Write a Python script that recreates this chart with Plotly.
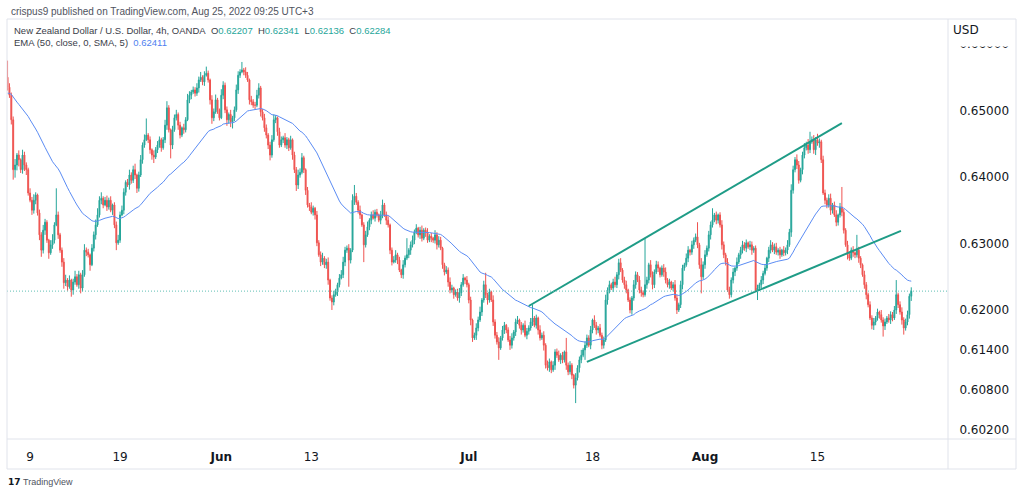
import numpy as np
import pandas as pd
import plotly.graph_objects as go

# ---------------- data (prices in units of 0.0001) ----------------
first_open_pips = 6550
close_pips = [
    6535, 6523, 6486, 6411, 6418, 6433, 6426, 6411, 6433, 6418,
    6411, 6376, 6365, 6350, 6365, 6373, 6346, 6313, 6290, 6320,
    6332, 6305, 6286, 6298, 6305, 6328, 6343, 6313, 6290, 6272,
    6241, 6245, 6235, 6245, 6230, 6242, 6250, 6238, 6253, 6233,
    6253, 6290, 6287, 6283, 6268, 6293, 6313, 6328, 6343, 6365,
    6368, 6358, 6365, 6355, 6365, 6350, 6358, 6328, 6301, 6305,
    6343, 6350, 6377, 6392, 6388, 6403, 6395, 6411, 6403, 6383,
    6403, 6426, 6448, 6456, 6463, 6456, 6441, 6433, 6430, 6441,
    6448, 6456, 6444, 6456, 6478, 6504, 6471, 6448, 6471, 6489,
    6494, 6478, 6463, 6474, 6471, 6486, 6516, 6523, 6528, 6531,
    6526, 6534, 6546, 6550, 6543, 6553, 6556, 6546, 6516, 6489,
    6498, 6516, 6501, 6489, 6523, 6538, 6501, 6486, 6494, 6483,
    6489, 6501, 6531, 6553, 6558, 6561, 6558, 6553, 6546, 6516,
    6513, 6508, 6508, 6523, 6534, 6498, 6489, 6474, 6463, 6448,
    6433, 6456, 6486, 6489, 6468, 6448, 6456, 6459, 6448, 6456,
    6444, 6456, 6433, 6411, 6388, 6403, 6407, 6429, 6411, 6380,
    6358, 6355, 6347, 6353, 6343, 6301, 6283, 6272, 6278, 6268,
    6272, 6245, 6218, 6212, 6223, 6227, 6238, 6248, 6253, 6272,
    6290, 6293, 6275, 6290, 6365, 6371, 6362, 6350, 6343, 6328,
    6298, 6313, 6325, 6335, 6343, 6338, 6347, 6343, 6335, 6343,
    6358, 6343, 6335, 6328, 6290, 6272, 6275, 6283, 6275, 6260,
    6253, 6268, 6278, 6283, 6290, 6298, 6305, 6317, 6323, 6313,
    6320, 6308, 6320, 6317, 6305, 6311, 6308, 6305, 6313, 6298,
    6305, 6293, 6268, 6257, 6260, 6242, 6230, 6233, 6223, 6227,
    6218, 6226, 6238, 6248, 6245, 6238, 6215, 6185, 6158, 6162,
    6173, 6185, 6197, 6215, 6238, 6223, 6215, 6227, 6215, 6182,
    6162, 6152, 6143, 6158, 6170, 6177, 6170, 6155, 6147, 6158,
    6167, 6182, 6185, 6177, 6170, 6177, 6162, 6168, 6173, 6182,
    6188, 6177, 6188, 6170, 6158, 6162, 6147, 6117, 6113, 6122,
    6110, 6117, 6137, 6132, 6125, 6132, 6125, 6137, 6117, 6107,
    6117, 6102, 6087, 6098, 6113, 6125, 6132, 6140, 6147, 6158,
    6147, 6170, 6185, 6177, 6170, 6173, 6162, 6147, 6155, 6215,
    6230, 6238, 6233, 6242, 6238, 6253, 6271, 6260, 6245, 6238,
    6230, 6215, 6200, 6218, 6238, 6253, 6245, 6230, 6226, 6223,
    6238, 6245, 6268, 6253, 6238, 6257, 6268, 6263, 6253, 6263,
    6257, 6245, 6238, 6242, 6233, 6238, 6218, 6200, 6208, 6238,
    6263, 6268, 6278, 6290, 6287, 6298, 6305, 6310, 6298, 6268,
    6250, 6268, 6283, 6293, 6313, 6328, 6335, 6343, 6335, 6343,
    6328, 6298, 6283, 6272, 6230, 6223, 6245, 6257, 6263, 6272,
    6283, 6290, 6298, 6293, 6301, 6295, 6298, 6290, 6293, 6230,
    6233, 6238, 6245, 6255, 6263, 6278, 6290, 6298, 6290, 6295,
    6287, 6290, 6283, 6290, 6286, 6290, 6298, 6317, 6380, 6411,
    6426, 6418, 6395, 6411, 6433, 6444, 6448, 6441, 6453, 6456,
    6441, 6456, 6451, 6453, 6426, 6376, 6365, 6358, 6368, 6350,
    6358, 6343, 6332, 6343, 6355, 6347, 6320, 6298, 6283, 6278,
    6290, 6286, 6283, 6290, 6278, 6268, 6253, 6238, 6223, 6208,
    6188, 6177, 6182, 6188, 6197, 6193, 6185, 6176, 6182, 6188,
    6185, 6193, 6188, 6200, 6223, 6208, 6197, 6185, 6173, 6182,
    6193, 6220.7, 6228.4,
]
wick_up_pips = [
    25, 6, 4, 5, 9, 3, 7, 2, 8, 5, 4, 3, 7, 5, 9, 4, 2, 5, 4, 8,
    5, 3, 2, 7, 9, 4, 40, 5, 3, 4, 6, 8, 3, 7, 2, 5, 9, 4, 6, 3,
    7, 9, 4, 5, 2, 6, 5, 8, 10, 6, 9, 3, 5, 7, 4, 6, 2, 4, 5, 8,
    5, 7, 6, 3, 5, 8, 4, 6, 9, 2, 5, 7, 4, 8, 25, 3, 5, 2, 7, 4,
    6, 5, 3, 4, 8, 10, 4, 2, 6, 5, 7, 3, 5, 2, 6, 4, 9, 6, 3, 5,
    4, 7, 5, 8, 3, 6, 10, 4, 2, 7, 5, 8, 3, 2, 9, 6, 4, 5, 3, 7,
    3, 5, 8, 6, 4, 12, 3, 7, 5, 2, 6, 4, 5, 8, 7, 3, 4, 6, 5, 3,
    5, 7, 8, 4, 2, 6, 5, 3, 7, 4, 3, 6, 2, 5, 4, 8, 6, 7, 3, 2,
    5, 3, 7, 4, 2, 6, 4, 5, 8, 3, 5, 7, 2, 4, 6, 5, 3, 6, 7, 8,
    5, 4, 6, 3, 9, 17, 5, 3, 7, 2, 4, 6, 8, 3, 5, 7, 4, 5, 2, 6,
    8, 3, 5, 6, 2, 4, 6, 7, 3, 5, 2, 7, 4, 25, 3, 5, 7, 4, 6, 2,
    5, 7, 3, 4, 6, 3, 5, 2, 7, 4, 6, 5, 2, 3, 6, 4, 7, 5, 2, 4,
    5, 7, 4, 6, 2, 6, 3, 5, 2, 4, 7, 5, 8, 3, 6, 18, 3, 5, 2, 7,
    4, 5, 7, 3, 6, 5, 2, 4, 6, 7, 3, 5, 6, 2, 5, 3, 7, 5, 4, 6,
    20, 3, 5, 2, 7, 4, 6, 3, 7, 5, 2, 6, 4, 5, 7, 3, 5, 2, 21, 4,
    6, 3, 2, 7, 4, 5, 8, 3, 6, 5, 4, 6, 2, 7, 5, 3, 6, 4, 5, 8,
    4, 6, 3, 5, 8, 4, 6, 7, 3, 5, 6, 2, 4, 3, 7, 5, 4, 6, 5, 3,
    70, 5, 3, 7, 5, 4, 6, 5, 2, 4, 6, 7, 3, 5, 2, 4, 7, 5, 3, 6,
    5, 3, 7, 6, 2, 6, 4, 5, 22, 3, 10, 5, 7, 4, 6, 5, 18, 3, 5, 2,
    4, 7, 5, 3, 6, 5, 4, 6, 2, 7, 3, 5, 6, 4, 5, 2, 6, 5, 3, 4,
    5, 3, 6, 4, 5, 2, 5, 7, 4, 5, 6, 3, 5, 2, 6, 4, 7, 5, 9, 6,
    4, 8, 6, 3, 5, 7, 5, 9, 15, 5, 7, 4, 9, 5, 3, 6, 5, 4, 6, 7,
    3, 5, 7, 2, 6, 30, 5, 3, 6, 5, 4, 6, 2, 23, 5, 3, 2, 6, 4, 3,
    5, 4, 6, 3, 5, 2, 7, 4, 5, 3, 6, 5, 4, 6, 22, 3, 5, 7, 4, 5,
    6, 4, 5.7,
]
wick_dn_pips = [
    5, 4, 7, 15, 12, 8, 10, 5, 6, 9, 8, 4, 3, 7, 5, 6, 4, 8, 10, 5,
    7, 4, 9, 3, 6, 5, 2, 6, 4, 7, 9, 5, 6, 3, 10, 7, 4, 3, 6, 8,
    5, 3, 6, 4, 9, 2, 5, 7, 3, 4, 6, 5, 2, 6, 4, 3, 7, 5, 11, 3,
    4, 2, 6, 5, 3, 7, 5, 4, 6, 7, 5, 3, 6, 4, 2, 5, 6, 7, 9, 3,
    5, 4, 6, 3, 5, 7, 4, 20, 6, 3, 4, 7, 5, 3, 6, 4, 2, 5, 6, 3,
    5, 4, 7, 3, 5, 6, 2, 4, 7, 9, 5, 3, 6, 4, 2, 6, 5, 9, 6, 8,
    10, 5, 3, 6, 4, 2, 5, 4, 3, 7, 5, 4, 6, 3, 5, 7, 4, 6, 5, 6,
    8, 4, 3, 5, 6, 4, 3, 5, 4, 6, 5, 3, 7, 5, 9, 6, 4, 3, 5, 7,
    4, 6, 3, 5, 7, 5, 3, 6, 4, 5, 6, 7, 4, 12, 5, 3, 6, 4, 2, 5,
    6, 4, 40, 5, 3, 7, 4, 5, 6, 3, 26, 4, 3, 5, 6, 2, 5, 4, 3, 6,
    5, 3, 7, 4, 6, 5, 2, 4, 6, 3, 5, 6, 4, 3, 5, 7, 4, 6, 3, 4,
    6, 5, 3, 7, 4, 3, 6, 4, 5, 7, 4, 3, 6, 5, 3, 7, 5, 4, 6, 3,
    4, 7, 5, 3, 6, 4, 5, 8, 6, 3, 7, 5, 3, 6, 4, 5, 7, 4, 3, 6,
    5, 4, 18, 3, 4, 6, 5, 3, 7, 5, 4, 6, 3, 5, 7, 4, 3, 6, 5, 4,
    6, 3, 5, 7, 4, 3, 8, 5, 4, 6, 5, 3, 7, 4, 3, 6, 5, 4, 7, 5,
    4, 6, 5, 27, 4, 7, 5, 3, 15, 4, 3, 6, 5, 4, 7, 5, 3, 6, 5, 3,
    7, 5, 3, 6, 4, 5, 7, 3, 4, 6, 5, 3, 5, 7, 4, 6, 3, 5, 6, 4,
    3, 6, 5, 4, 7, 5, 3, 6, 4, 3, 7, 5, 4, 6, 3, 5, 4, 6, 3, 5,
    7, 4, 3, 6, 5, 4, 6, 3, 5, 6, 25, 4, 6, 3, 5, 7, 4, 3, 6, 5,
    4, 7, 5, 5, 3, 6, 4, 5, 6, 4, 3, 6, 5, 4, 6, 3, 5, 7, 4, 3,
    15, 4, 5, 6, 3, 4, 6, 5, 3, 6, 4, 5, 6, 3, 5, 4, 6, 3, 7, 5,
    4, 6, 5, 3, 7, 5, 4, 6, 5, 3, 6, 8, 4, 7, 5, 3, 6, 5, 4, 7,
    5, 3, 6, 5, 4, 6, 5, 3, 7, 4, 3, 6, 5, 4, 7, 5, 3, 6, 7, 4,
    3, 6, 7, 5, 4, 6, 4, 16, 6, 3, 4, 6, 5, 3, 6, 5, 4, 7, 10, 4,
    5, 6, 7.1,
]

start_day = "2022-05-05"
end_day = "2022-08-25"
tick_dates = ["2022-05-09", "2022-05-19", "2022-06-01", "2022-06-13",
              "2022-07-01", "2022-07-18", "2022-08-01", "2022-08-15"]
tick_labels = ["9", "19", "<b>Jun</b>", "13", "<b>Jul</b>", "18", "<b>Aug</b>", "15"]
price_ticks = [0.602, 0.608, 0.614, 0.620, 0.630, 0.640, 0.650, 0.660]

# drawn channel (candle index, price)
channel_upper_x = [278, 445]
channel_upper_y = [0.6206, 0.6481]
channel_lower_x = [309, 476.5]
channel_lower_y = [0.6122, 0.6319]

ema_length = 50
ema_start = 0.6526   # EMA value at the first visible candle

# ---------------- build OHLC ----------------
n = len(close_pips)
if not (len(wick_up_pips) == n and len(wick_dn_pips) == n):
    raise SystemExit(f"lengths {n} {len(wick_up_pips)} {len(wick_dn_pips)}")

close = np.array(close_pips, dtype=float) / 1e4
open_ = np.concatenate([[first_open_pips / 1e4], close[:-1]])
high = np.maximum(open_, close) + np.array(wick_up_pips, dtype=float) / 1e4
low = np.minimum(open_, close) - np.array(wick_dn_pips, dtype=float) / 1e4

days = pd.bdate_range(start_day, end_day)
times = [d + pd.Timedelta(hours=4 * k) for d in days for k in range(6)][:n]
idx = np.arange(n)
tick_idx = [times.index(pd.Timestamp(t)) for t in tick_dates]

alpha = 2.0 / (ema_length + 1)
ema = np.empty(n)
ema[0] = ema_start
for i in range(1, n):
    ema[i] = alpha * close[i] + (1 - alpha) * ema[i - 1]

UP = "#26a69a"
DN = "#ef5350"
TEAL = "#1f9c87"

fig = go.Figure()
fig.add_trace(go.Candlestick(
    x=idx, open=open_, high=high, low=low, close=close,
    increasing=dict(line=dict(color=UP, width=1), fillcolor=UP),
    decreasing=dict(line=dict(color=DN, width=1), fillcolor=DN),
    whiskerwidth=0, hoverinfo="skip", showlegend=False,
))
fig.add_trace(go.Scatter(x=idx, y=ema, mode="lines",
                         line=dict(color="#5b8cf4", width=1),
                         hoverinfo="skip", showlegend=False))
fig.add_trace(go.Scatter(x=channel_upper_x, y=channel_upper_y, mode="lines",
                         line=dict(color=TEAL, width=2), hoverinfo="skip", showlegend=False))
fig.add_trace(go.Scatter(x=channel_lower_x, y=channel_lower_y, mode="lines",
                         line=dict(color=TEAL, width=2), hoverinfo="skip", showlegend=False))

# ---------------- layout ----------------
W, H = 1024, 495
L, R, T, B = 7, 948, 19, 439
def px(x):
    return (x - L) / (R - L)
def py(y):
    return (B - y) / (B - T)

BORDER = "#e0e3eb"
shapes = [
    dict(type="line", xref="paper", yref="y", x0=0, x1=1, y0=close[-1], y1=close[-1],
         line=dict(color="#5fbfb4", width=1, dash="1px,2px")),
    dict(type="line", xref="paper", yref="paper", x0=px(7), x1=px(1016), y0=py(19), y1=py(19),
         line=dict(color=BORDER, width=1)),
    dict(type="line", xref="paper", yref="paper", x0=px(7), x1=px(1016), y0=py(439), y1=py(439),
         line=dict(color=BORDER, width=1)),
    dict(type="line", xref="paper", yref="paper", x0=px(7), x1=px(1016), y0=py(469), y1=py(469),
         line=dict(color=BORDER, width=1)),
    dict(type="line", xref="paper", yref="paper", x0=px(7), x1=px(7), y0=py(19), y1=py(469),
         line=dict(color=BORDER, width=1)),
    dict(type="line", xref="paper", yref="paper", x0=px(948), x1=px(948), y0=py(19), y1=py(469),
         line=dict(color=BORDER, width=1)),
    dict(type="line", xref="paper", yref="paper", x0=px(1016), x1=px(1016), y0=py(19), y1=py(469),
         line=dict(color=BORDER, width=1)),
]

NB = "\u00a0"
HF = "Liberation Sans"
def val(v, c=UP):
    return f"<span style='color:{c}'>{v}</span>"
legend1 = ("New Zealand Dollar / U.S. Dollar, 4h, OANDA" + NB * 2 +
           "O" + val("0.62207") + NB * 2 + "H" + val("0.62341") + NB * 2 +
           "L" + val("0.62136") + NB * 2 + "C" + val("0.62284"))
legend2 = "EMA (50, close, 0, SMA, 5)" + NB * 2 + val("0.62411", "#4f7ff0")

annotations = [
    dict(text="crispus9 published on TradingView.com, Aug 25, 2022 09:25 UTC+3",
         xref="paper", yref="paper", x=px(9), y=py(11), xanchor="left", yanchor="middle",
         showarrow=False, font=dict(family=HF, size=10, color="#50535e")),
    dict(text=legend1, xref="paper", yref="paper", x=px(12), y=py(30.5), xanchor="left",
         yanchor="middle", showarrow=False, font=dict(family=HF, size=9.5, color="#3a3d48")),
    dict(text=legend2, xref="paper", yref="paper", x=px(12), y=py(42.5), xanchor="left",
         yanchor="middle", showarrow=False, font=dict(family=HF, size=9.5, color="#3a3d48")),
    dict(text="USD", xref="paper", yref="paper", x=px(951), y=py(21), xanchor="left",
         yanchor="top", showarrow=False, bgcolor="white", width=60, height=22,
         align="left", valign="top",
         font=dict(family="DejaVu Sans", size=12, color="#131722")),
    dict(text="<b>17</b>", xref="paper", yref="paper", x=px(6), y=py(482), xanchor="left",
         yanchor="middle", showarrow=False, font=dict(family="DejaVu Sans", size=9, color="#131722")),
    dict(text="TradingView", xref="paper", yref="paper", x=px(21), y=py(482), xanchor="left",
         yanchor="middle", showarrow=False, font=dict(family=HF, size=9, color="#50535e")),
]

fig.update_layout(
    width=W, height=H,
    margin=dict(l=L, r=W - R, t=T, b=H - B),
    paper_bgcolor="white", plot_bgcolor="white",
    showlegend=False, hovermode=False,
    shapes=shapes, annotations=annotations,
    xaxis=dict(range=[-0.3, 501.6], rangeslider=dict(visible=False),
               tickmode="array", tickvals=tick_idx, ticktext=tick_labels,
               showgrid=False, zeroline=False, showline=False,
               ticks="outside", ticklen=7, tickcolor="rgba(0,0,0,0)",
               tickfont=dict(family="DejaVu Sans", size=12, color="#131722")),
    yaxis=dict(range=[0.6006, 0.66376], side="right",
               tickmode="array", tickvals=price_ticks,
               ticktext=[f"{v:.5f}" for v in price_ticks],
               showgrid=False, zeroline=False, showline=False,
               ticks="outside", ticklen=8, tickcolor="rgba(0,0,0,0)",
               tickfont=dict(family="DejaVu Sans", size=12, color="#131722")),
)

fig.write_html("out.html", config={"displayModeBar": False},
               post_script="document.body.style.margin='0px';document.body.style.overflow='hidden';")
